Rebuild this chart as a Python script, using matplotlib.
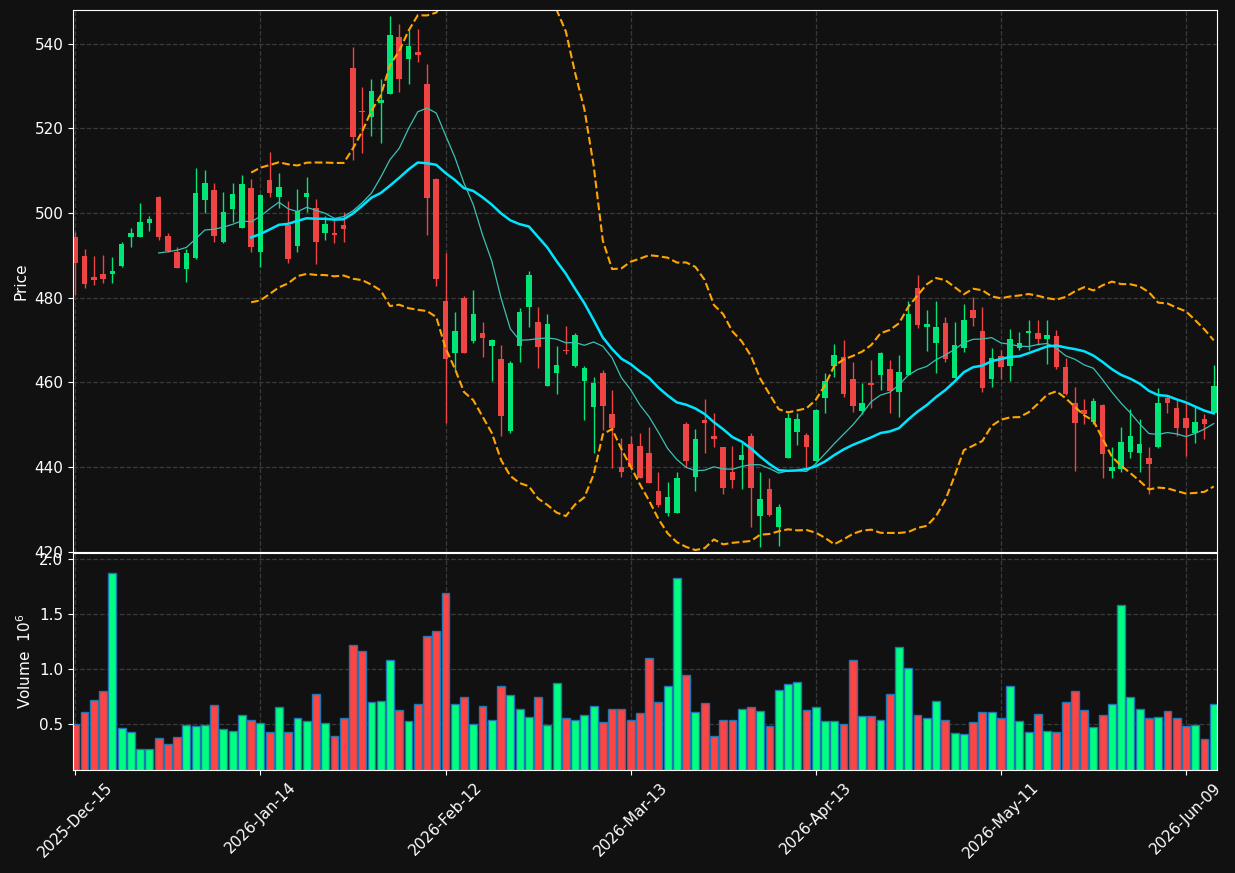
import numpy as np
import pandas as pd
import matplotlib
matplotlib.use("Agg")
from matplotlib import pyplot as plt

holidays = ["2025-12-25", "2026-01-01", "2026-01-19", "2026-02-16", "2026-04-03", "2026-05-25"]
dates = pd.bdate_range("2025-12-15", periods=124, freq="C", holidays=holidays)

opens = [494.4, 489.9, 484.8, 485.7, 485.6, 487.6, 494.4, 494.4, 497.7, 503.9,
         494.6, 490.9, 486.8, 489.4, 503.1, 505.5, 493.2, 501.0, 496.5, 506.0,
         490.9, 507.9, 503.9, 497.2, 492.3, 503.9, 501.3, 495.4, 495.4, 497.2,
         534.3, 524.0, 522.8, 526.1, 528.2, 541.7, 536.5, 538.1, 530.6, 508.1,
         479.3, 467.0, 480.0, 469.8, 471.7, 468.7, 465.6, 448.6, 468.7, 477.9,
         474.3, 459.2, 462.3, 467.6, 463.9, 460.2, 454.2, 462.3, 452.6, 440.1,
         445.5, 445.0, 443.4, 434.4, 429.2, 429.0, 450.2, 437.7, 451.0, 447.4,
         444.6, 438.9, 441.7, 447.2, 428.5, 434.9, 425.7, 442.0, 448.3, 447.6,
         441.5, 456.4, 463.9, 466.1, 460.9, 453.3, 459.9, 461.8, 463.2, 457.6,
         461.8, 482.4, 473.1, 469.4, 474.1, 461.1, 468.2, 477.2, 472.2, 460.9,
         466.3, 463.9, 468.0, 471.7, 471.7, 470.3, 471.0, 463.7, 455.0, 453.5,
         450.7, 454.7, 439.1, 439.6, 443.6, 443.4, 442.0, 444.6, 456.4, 454.0,
         451.6, 448.1, 451.4, 452.8]
highs = [495.6, 491.6, 489.9, 490.2, 489.7, 493.2, 496.5, 502.4, 499.2, 504.0,
         495.4, 492.0, 491.6, 510.7, 510.2, 507.2, 505.0, 507.2, 509.1, 508.1,
         504.4, 514.5, 509.5, 502.9, 505.7, 508.6, 503.4, 499.4, 498.7, 500.3,
         539.3, 529.8, 531.7, 531.7, 546.6, 544.7, 543.3, 543.5, 535.3, 508.2,
         490.6, 476.5, 480.5, 481.9, 474.3, 470.3, 468.9, 465.1, 477.6, 486.4,
         477.9, 476.2, 468.7, 473.4, 471.7, 463.9, 461.3, 463.0, 458.3, 446.9,
         447.2, 448.1, 449.5, 438.7, 436.5, 438.7, 450.7, 449.0, 456.1, 452.8,
         444.8, 445.0, 445.7, 448.1, 438.7, 437.5, 431.3, 452.8, 452.8, 448.1,
         453.6, 462.3, 469.0, 469.9, 464.9, 459.9, 465.3, 467.1, 465.3, 466.5,
         479.1, 485.4, 477.2, 479.1, 475.5, 474.3, 478.6, 480.2, 477.9, 468.0,
         467.7, 472.7, 472.0, 474.8, 474.8, 474.8, 472.4, 465.8, 459.0, 456.1,
         456.4, 454.8, 444.8, 449.5, 453.8, 451.4, 444.8, 458.7, 457.1, 455.9,
         455.2, 454.2, 452.4, 464.2]
lows = [480.7, 482.4, 483.0, 483.5, 483.4, 487.3, 492.0, 494.3, 495.8, 493.7,
        490.9, 487.0, 483.8, 489.2, 500.1, 493.2, 493.0, 497.9, 496.4, 490.9,
        487.3, 503.9, 501.3, 488.3, 490.9, 500.3, 488.0, 493.7, 493.0, 493.2,
        512.6, 514.3, 518.3, 516.6, 528.1, 528.7, 530.6, 535.7, 494.9, 482.8,
        450.5, 463.0, 466.9, 469.3, 466.1, 460.2, 447.2, 448.1, 464.9, 473.1,
        463.5, 459.1, 457.3, 466.8, 463.7, 451.2, 443.4, 448.8, 439.8, 437.7,
        440.0, 437.4, 436.2, 430.6, 428.5, 429.0, 440.1, 434.4, 443.4, 444.6,
        433.7, 435.1, 434.9, 425.9, 421.0, 428.3, 421.2, 442.0, 445.3, 439.8,
        441.3, 452.8, 461.3, 456.6, 453.1, 452.4, 454.0, 458.3, 452.8, 451.9,
        461.7, 472.9, 467.5, 462.3, 464.9, 461.0, 467.2, 473.4, 457.6, 459.0,
        460.9, 460.2, 467.7, 467.7, 468.9, 464.4, 463.2, 457.1, 439.1, 450.2,
        450.2, 437.5, 437.5, 438.7, 442.2, 438.9, 433.5, 444.5, 452.8, 447.2,
        442.7, 445.7, 446.7, 452.7]
closes = [488.3, 483.3, 484.2, 484.5, 486.2, 492.8, 495.3, 498.0, 498.7, 494.4,
          491.1, 487.1, 490.6, 504.8, 507.2, 494.6, 500.3, 504.6, 506.9, 492.0,
          504.3, 504.8, 506.2, 489.2, 500.5, 504.8, 493.2, 497.5, 494.9, 496.3,
          518.0, 523.8, 528.9, 526.8, 542.1, 531.7, 539.5, 537.4, 503.6, 484.5,
          465.6, 472.2, 467.0, 476.2, 470.5, 470.1, 452.1, 464.6, 476.7, 485.4,
          468.4, 473.9, 464.2, 467.4, 471.3, 463.5, 459.9, 454.5, 449.3, 438.7,
          440.1, 437.5, 436.3, 430.9, 432.8, 437.5, 441.3, 446.7, 450.5, 446.7,
          435.1, 436.8, 442.9, 435.1, 432.5, 428.7, 430.6, 451.6, 451.4, 444.6,
          453.5, 460.4, 466.5, 457.3, 454.5, 455.2, 459.4, 467.0, 458.0, 462.5,
          476.2, 473.6, 473.9, 473.1, 465.4, 468.9, 474.8, 475.3, 458.7, 465.8,
          463.7, 470.3, 469.4, 472.2, 470.3, 471.3, 463.7, 457.3, 450.5, 452.5,
          455.7, 443.1, 440.1, 446.0, 447.4, 445.5, 440.8, 455.2, 455.0, 449.3,
          449.3, 450.7, 450.2, 459.2]
# volume in millions
volumes = [0.50, 0.61, 0.72, 0.80, 1.87, 0.46, 0.43, 0.27, 0.27, 0.37,
           0.32, 0.38, 0.49, 0.48, 0.49, 0.67, 0.45, 0.44, 0.58, 0.54,
           0.51, 0.43, 0.65, 0.43, 0.55, 0.53, 0.77, 0.51, 0.39, 0.55,
           1.22, 1.16, 0.70, 0.71, 1.08, 0.63, 0.53, 0.68, 1.30, 1.35,
           1.69, 0.68, 0.75, 0.50, 0.66, 0.54, 0.85, 0.76, 0.64, 0.56,
           0.75, 0.49, 0.87, 0.55, 0.54, 0.58, 0.66, 0.52, 0.64, 0.64,
           0.54, 0.60, 1.10, 0.70, 0.85, 1.83, 0.95, 0.61, 0.69, 0.39,
           0.54, 0.54, 0.64, 0.65, 0.62, 0.48, 0.81, 0.86, 0.88, 0.63,
           0.65, 0.53, 0.53, 0.50, 1.08, 0.57, 0.57, 0.54, 0.77, 1.20,
           1.01, 0.58, 0.55, 0.71, 0.54, 0.42, 0.41, 0.52, 0.61, 0.61,
           0.55, 0.85, 0.53, 0.43, 0.59, 0.44, 0.43, 0.70, 0.80, 0.63,
           0.47, 0.58, 0.68, 1.58, 0.75, 0.64, 0.55, 0.56, 0.62, 0.55,
           0.48, 0.49, 0.36, 0.68]

BG = "#111111"
UP, DOWN = "#00e676", "#ef4444"
VUP, VDOWN = "#00ff80", "#ff4444"

o = np.array(opens)
h = np.array(highs)
l = np.array(lows)
c = np.array(closes)
v = np.array(volumes)
x = np.arange(len(dates))
up = c >= o

close_s = pd.Series(c)
mav10 = close_s.rolling(10).mean()
mav20 = close_s.rolling(20).mean()
std20 = close_s.rolling(20).std()
upper = mav20 + 2 * std20
lower = mav20 - 2 * std20

plt.rcParams["font.family"] = "DejaVu Sans"
fig = plt.figure(figsize=(12.35, 8.73), dpi=100, facecolor=BG)
ax = fig.add_axes([0.0591, 0.3677, 0.9263, 0.6209])
axv = fig.add_axes([0.0591, 0.118, 0.9263, 0.2486], sharex=ax)

for a in (ax, axv):
    a.set_facecolor(BG)
    a.grid(True, linestyle="--", color="#3a3a3a", linewidth=0.9)
    a.set_axisbelow(True)
    for s in a.spines.values():
        s.set_color("white")
    a.tick_params(colors="white", labelsize=11)

ax.vlines(x, l, h, colors=np.where(up, UP, DOWN), linewidth=1)
ax.bar(x, np.maximum(np.abs(c - o), 0.3), bottom=np.minimum(o, c), width=0.6,
       color=np.where(up, UP, DOWN), linewidth=0)
ax.plot(x, mav10, color="#3cc0b4", linewidth=0.9)
ax.plot(x, mav20, color="#00e5ff", linewidth=1.8)
ax.plot(x, upper, color="#ffa500", linestyle="--", linewidth=1.5)
ax.plot(x, lower, color="#ffa500", linestyle="--", linewidth=1.5)
ax.set_ylim(419.9, 548.0)
ax.set_yticks(range(420, 541, 20))
ax.set_ylabel("Price", color="white", fontsize=11)
ax.tick_params(axis="x", labelbottom=False)

axv.bar(x, v, width=0.85, color=np.where(up, VUP, VDOWN), edgecolor="#1f77b4", linewidth=1)
axv.set_ylim(0.3 * v.min(), 1.1 * v.max())
axv.set_yticks([0.5, 1.0, 1.5, 2.0])
axv.set_ylabel("Volume  $10^{6}$", color="white", fontsize=11)
ticks = list(range(0, len(dates), 20))
axv.set_xticks(ticks)
axv.set_xticklabels([dates[i].strftime("%Y-%b-%d") for i in ticks], rotation=45)
axv.set_xlim(-0.25, 123.35)

fig.savefig("out.png", dpi=100, facecolor=BG)
